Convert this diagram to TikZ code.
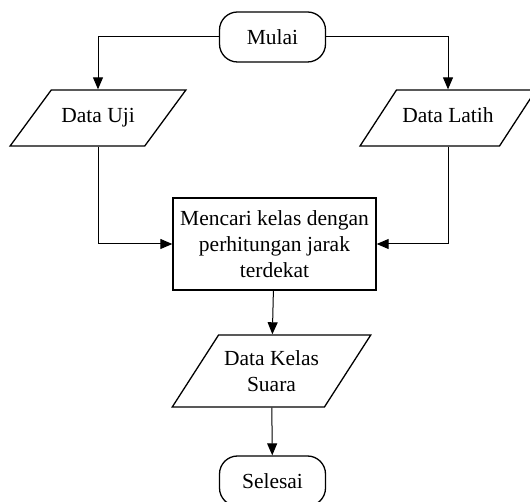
\documentclass[tikz,border=0pt]{standalone}
\usepackage{fontspec}
\setmainfont{Liberation Serif}
\usetikzlibrary{shapes.geometric,arrows.meta}
\begin{document}
\begin{tikzpicture}
          [x=1pt,y=-1pt,line width=1pt,>={Triangle[length=12pt,width=10pt]},
           every node/.style={draw,line width=1.3pt,align=center,inner sep=0pt,
             font=\fontsize{21.5}{26}\selectfont},
           terminal/.style={rounded corners=18pt,minimum width=106pt,minimum height=50pt},
           io/.style={trapezium,trapezium left angle=60,trapezium right angle=120,
             trapezium stretches=true},
           ioline/.style={io,text height=15pt,text depth=5pt,inner ysep=18pt,minimum width=176pt},
           proc/.style={rectangle,minimum width=203pt,minimum height=92pt}]
          \useasboundingbox (0,0) rectangle (530,502);
          \node[terminal] (mulai) at (272.5,37) {Mulai};
          \node[ioline] (uji) at (98,118) {Data Uji};
          \node[ioline] (latih) at (448,118) {Data Latih};
          \node[proc] (cari) at (274.5,244) {Mencari kelas dengan\\perhitungan jarak\\terdekat};
          \node[io,inner ysep=15.5pt,minimum width=199pt] (kelas) at (271.5,371) {Data Kelas\\Suara};
          \node[terminal] (selesai) at (272.5,481) {Selesai};

          \foreach \from/\to in {mulai.west/uji.north,mulai.east/latih.north}
            \draw[->] (\from) -| (\to);
          \foreach \from/\to in {uji.south/cari.west,latih.south/cari.east}
            \draw[->] (\from) |- (\to);
          \foreach \from/\to in {cari/kelas,kelas/selesai}
            \draw[->] (\from) -- (\to);

        \end{tikzpicture}
\end{document}
